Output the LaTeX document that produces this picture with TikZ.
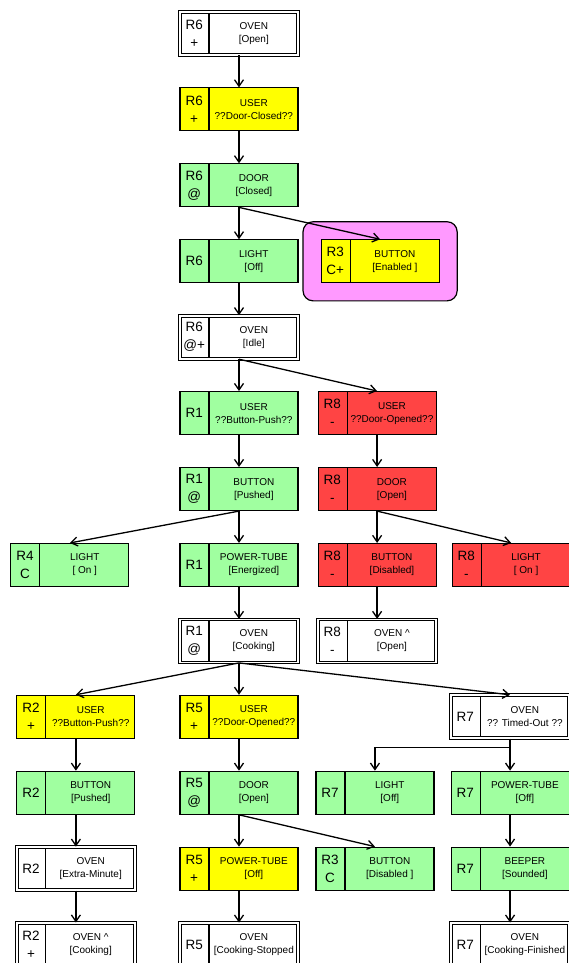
\documentclass[tikz,border=0pt]{standalone}
\usepackage{fontspec}
\setmainfont{Liberation Sans}
\usepackage{tikz}
\usetikzlibrary{arrows.meta,positioning,fit,backgrounds}
\definecolor{grn}{RGB}{160,255,160}
\definecolor{yel}{RGB}{255,255,0}
\definecolor{rd}{RGB}{255,68,68}
\definecolor{pnk}{RGB}{255,153,255}

\begin{document}
\begin{tikzpicture}[
  node distance=31.85pt and 19pt,
  arrow/.style={-{Straight Barb[length=6.5pt,width=9pt]}, line width=1.3pt},
  box/.style={draw, line width=1.1pt, minimum width=118pt, minimum height=43pt,
              inner sep=0pt,
              path picture={\draw[line width=1.1pt]
                ([xshift=29pt]path picture bounding box.north west) --
                ([xshift=29pt]path picture bounding box.south west);}},
  grnbox/.style={box, fill=grn},
  yelbox/.style={box, fill=yel},
  redbox/.style={box, fill=rd},
  ovenbox/.style={box, fill=white, double, double distance=1.8pt, line width=1pt},
  rulecell/.style={anchor=west, minimum width=29pt, inner sep=0pt, align=center,
                   font=\fontsize{13.5}{18}\selectfont},
  entity/.style={anchor=east, minimum width=89pt, inner sep=0pt, align=center,
                 font=\fontsize{10}{13}\selectfont},
  rl/.style={label={[rulecell]west:{#1}}},
  en/.style={label={[entity]east:{#1}}},
  halo/.style={rounded corners=10pt, draw, line width=1.2pt, fill=pnk, inner sep=17.5pt}
]
\useasboundingbox (0,0) rectangle (569pt,-963pt);

% Main column
\node[ovenbox, rl={R6\\+}, en={OVEN\\{[Open]}}] (open) at (239pt,-33.5pt) {};
\node[yelbox, rl={R6\\+}, en={USER\\??Door-Closed??}, below=of open] (closereq) {};
\node[grnbox, rl={R6\\@}, en={DOOR\\{[Closed]}}, below=of closereq] (doorclosed) {};
\node[grnbox, rl=R6, en={LIGHT\\{[Off]}}, below=of doorclosed] (lightoff6) {};
\node[yelbox, rl={R3\\C+}, en={BUTTON\\{[Enabled ]}}, right=22pt of lightoff6] (enabled) {};
\node[ovenbox, rl={R6\\@+}, en={OVEN\\{[Idle]}}, below=of lightoff6] (idle) {};

% Two branches
\node[grnbox, rl=R1, en={USER\\??Button-Push??}, below=of idle] (pushreq) {};
\node[redbox, rl={R8\\-}, en={USER\\??Door-Opened??}, right=of pushreq] (openreq) {};
\node[grnbox, rl={R1\\@}, en={BUTTON\\{[Pushed]}}, below=of pushreq] (pushed) {};
\node[redbox, rl={R8\\-}, en={DOOR\\{[Open]}}, below=of openreq] (dooropen) {};
\node[grnbox, rl=R1, en={POWER-TUBE\\{[Energized]}}, below=of pushed] (energized) {};
\node[grnbox, rl={R4\\C}, en={LIGHT\\{[ On ]}}, left=50pt of energized] (lighton) {};
\node[redbox, rl={R8\\-}, en={BUTTON\\{[Disabled]}}, below=of dooropen] (disabled) {};
\node[redbox, rl={R8\\-}, en={LIGHT\\{[ On ]}}, right=15pt of disabled] (lightback) {};
\node[ovenbox, rl={R1\\@}, en={OVEN\\{[Cooking]}}, below=of energized] (cooking) {};
\node[ovenbox, rl={R8\\-}, en={OVEN \textasciicircum\\{[Open]}}, below=of disabled] (ovenopen) {};

% Cooking outcomes
\node[yelbox, rl={R5\\+}, en={USER\\??Door-Opened??}, below=of cooking] (openreq5) {};
\node[yelbox, rl={R2\\+}, en={USER\\??Button-Push??}, left=44pt of openreq5] (pushreq2) {};
\node[ovenbox, rl=R7, en={OVEN\\?? Timed-Out ??}, right=152pt of openreq5] (timedout) {};
\node[grnbox, rl=R2, en={BUTTON\\{[Pushed]}}, below=of pushreq2] (pushed2) {};
\node[grnbox, rl={R5\\@}, en={DOOR\\{[Open]}}, below=of openreq5] (dooropen5) {};
\node[grnbox, rl=R7, en={POWER-TUBE\\{[Off]}}, below=of timedout] (tubeoff7) {};
\node[grnbox, rl=R7, en={LIGHT\\{[Off]}}, left=16pt of tubeoff7] (lightoff7) {};
\node[ovenbox, rl=R2, en={OVEN\\{[Extra-Minute]}}, below=of pushed2] (extramin) {};
\node[yelbox, rl={R5\\+}, en={POWER-TUBE\\{[Off]}}, below=of dooropen5] (tubeoff5) {};
\node[grnbox, rl={R3\\C}, en={BUTTON\\{[Disabled ]}}, below=of lightoff7] (disabled3) {};
\node[grnbox, rl=R7, en={BEEPER\\{[Sounded]}}, below=of tubeoff7] (beeper) {};
\node[ovenbox, rl={R2\\+}, en={OVEN \textasciicircum\\{[Cooking]}}, below=of extramin] (resumed) {};
\node[ovenbox, rl=R5, en={OVEN\\{[Cooking-Stopped}}, below=of tubeoff5] (stopped) {};
\node[ovenbox, rl=R7, en={OVEN\\{[Cooking-Finished}}, below=of beeper] (finished) {};

% Arrows
\draw[arrow] (open) -- (closereq);
\draw[arrow] (closereq) -- (doorclosed);
\draw[arrow] (doorclosed) -- (lightoff6);
\draw[arrow] (doorclosed.south) -- (enabled.north);
\draw[arrow] (lightoff6) -- (idle);
\draw[arrow] (idle) -- (pushreq);
\draw[arrow] (idle.south) -- (openreq.north);
\draw[arrow] (pushreq) -- (pushed);
\draw[arrow] (openreq) -- (dooropen);
\draw[arrow] (pushed) -- (energized);
\draw[arrow] (pushed.south) -- (lighton.north);
\draw[arrow] (dooropen) -- (disabled);
\draw[arrow] (dooropen.south) -- (lightback.north);
\draw[arrow] (energized) -- (cooking);
\draw[arrow] (disabled) -- (ovenopen);
\draw[arrow] (cooking) -- (openreq5);
\draw[arrow] (cooking.south) -- (pushreq2.north);
\draw[arrow] (cooking.south) -- (timedout.north);
\draw[arrow] (pushreq2) -- (pushed2);
\draw[arrow] (openreq5) -- (dooropen5);
\draw[arrow] (timedout) -- (tubeoff7);
\draw[arrow] (timedout.south) -- ++(0,-9pt) -| (lightoff7.north);
\draw[arrow] (pushed2) -- (extramin);
\draw[arrow] (dooropen5) -- (tubeoff5);
\draw[arrow] (dooropen5.south) -- (disabled3.north);
\draw[arrow] (tubeoff7) -- (beeper);
\draw[arrow] (extramin) -- (resumed);
\draw[arrow] (tubeoff5) -- (stopped);
\draw[arrow] (beeper) -- (finished);

% Enabled button highlight
\begin{pgfonlayer}{background}
  \node[halo, fit=(enabled)] (enabledhalo) {};
\end{pgfonlayer}

\end{tikzpicture}
\end{document}
